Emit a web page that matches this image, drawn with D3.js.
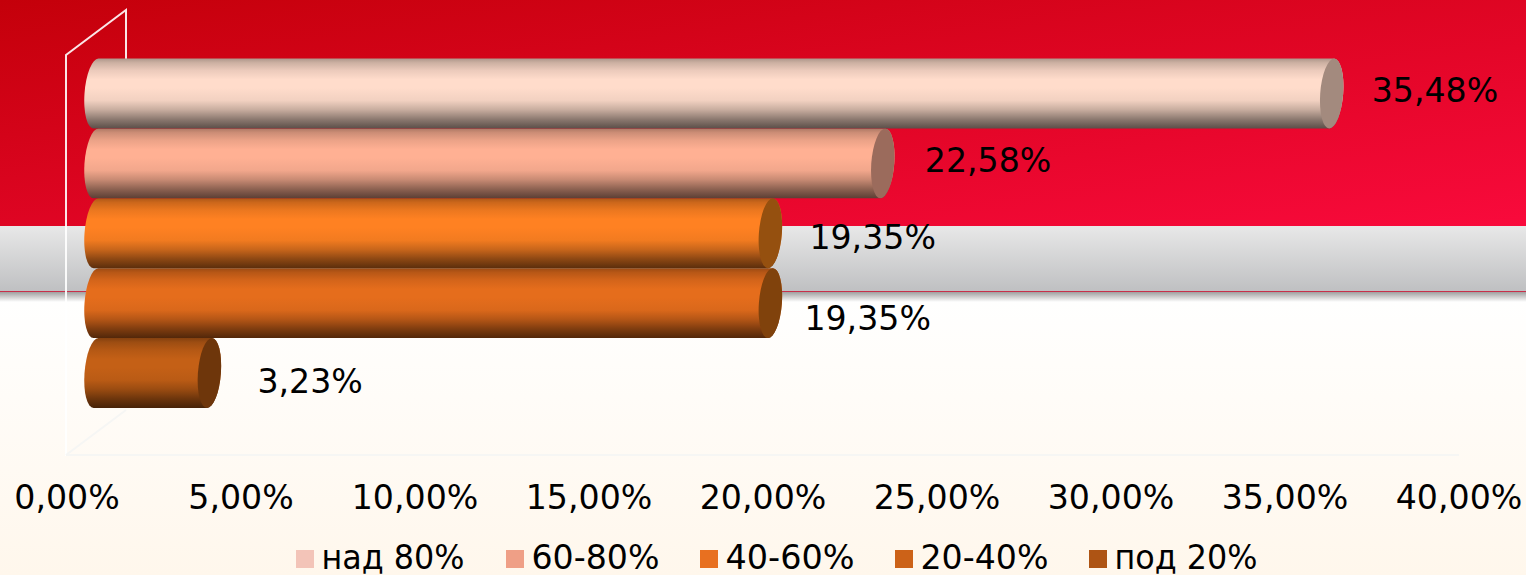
<!DOCTYPE html>
<html lang="en">

<head>
    <meta charset="UTF-8">
    <title>Bar Chart</title>
    <style>
        body {
            margin: 0;
            padding: 0;
            overflow: hidden;
            background-color: #fff;
        }

        svg {
            display: block;
        }

        text {
            font-family: "DejaVu Sans", sans-serif;
            font-size: 33.2px;
            fill: #000;
        }
    </style>
</head>

<body>
    <div id="chart"></div>

    <script src="https://d3js.org/d3.v7.min.js"></script>
    <script>
        const categories = ["над 80%", "60-80%", "40-60%", "20-40%", "под 20%"];
        const values = [35.48, 22.58, 19.35, 19.35, 3.23];
        const tickValues = [0, 5, 10, 15, 20, 25, 30, 35, 40];
        const barColors = ["#ffdccb", "#ffb093", "#ff8122", "#e56d1c", "#c46016"];
        const capColors = ["#a38a7e", "#9b6b5c", "#95500f", "#80420c", "#6e360b"];
        const legendColors = ["#f3c4b8", "#ef9f86", "#e87020", "#cc6218", "#ae5414"];

        const width = 1526;
        const height = 575;

        const svg = d3.select("#chart").append("svg")
            .attr("width", width)
            .attr("height", height);

        const defs = svg.append("defs");

        function addGradient(id, stops, attrs) {
            const g = defs.append("linearGradient").attr("id", id);
            Object.entries(attrs).forEach(([k, v]) => g.attr(k, v));
            stops.forEach(s => g.append("stop").attr("offset", s[0]).attr("stop-color", s[1]));
        }

        const vertical = { x1: 0, y1: 0, x2: 0, y2: 1 };
        addGradient("redBg", [[0, "#c4000a"], [1, "#f90a3c"]], { x1: 0, y1: 0, x2: 1, y2: 1 });
        addGradient("greyBg", [[0, "#e8e8e8"], [1, "#bfc0c2"]], vertical);
        addGradient("shadowBg", [[0, "#a0a0a0"], [1, "#ffffff"]], vertical);
        addGradient("creamBg", [[0, "#ffffff"], [1, "#fff7ec"]], vertical);

        // page background, the red, grey and cream bands
        svg.append("rect").attr("width", width).attr("height", 226).attr("fill", "url(#redBg)");
        svg.append("rect").attr("y", 226).attr("width", width).attr("height", 65).attr("fill", "url(#greyBg)");
        svg.append("rect").attr("y", 291).attr("width", width).attr("height", 284).attr("fill", "url(#creamBg)");
        svg.append("rect").attr("y", 292).attr("width", width).attr("height", 10).attr("fill", "url(#shadowBg)");
        svg.append("rect").attr("y", 291).attr("width", width).attr("height", 1).attr("fill", "#c8304a");

        const x = d3.scaleLinear().domain([0, 40]).range([67, 1459]);
        const y = d3.scaleBand().domain(categories).range([58.5, 408]);

        const depthX = 30;
        const capRx = 11.5;
        const skew = -4;

        // back wall and floor of the 3d box
        const wall = svg.append("g").attr("fill", "none");
        wall.append("path")
            .attr("d", `M${x(0) - 1},456V55L${x(0) + 59},10V60`)
            .attr("stroke", "#ffffff")
            .attr("stroke-opacity", 0.9)
            .attr("stroke-width", 2);
        wall.append("path")
            .attr("d", `M${x(0) - 1},455H${x(40)}M${x(0) - 1},455L${x(0) + 59},410`)
            .attr("stroke", "#f6f6f4")
            .attr("stroke-width", 2);

        // shading down the cylinder, built from each bar colour
        categories.forEach((c, i) => {
            const base = d3.color(barColors[i]);
            const shade = k => d3.rgb(base.r * k, base.g * k, base.b * k).formatHex();
            addGradient("bar" + i, [
                [0, shade(0.68)],
                [0.06, shade(0.8)],
                [0.17, shade(0.92)],
                [0.3, shade(1)],
                [0.42, shade(1)],
                [0.6, shade(0.95)],
                [0.73, shade(0.79)],
                [0.87, shade(0.55)],
                [1, shade(0.36)]
            ], vertical);
        });

        const rows = categories.map((c, i) => ({ c, v: values[i], i }));

        // lower bars first so each one sits under the bar above it
        const bars = svg.append("g")
            .selectAll("g")
            .data(rows.slice().reverse())
            .enter().append("g")
            .attr("transform", d => `translate(0,${y(d.c) + y.bandwidth() / 2}) skewX(${skew})`);

        bars.append("path")
            .attr("d", d => {
                const ry = y.bandwidth() / 2;
                const x0 = x(0) + depthX - 1;
                const x1 = x(d.v) + depthX;
                return `M${x0},${-ry}A${capRx},${ry} 0 0 0 ${x0},${ry}L${x1},${ry}A${capRx},${ry} 0 0 0 ${x1},${-ry}Z`;
            })
            .attr("fill", d => `url(#bar${d.i})`);

        bars.append("ellipse")
            .attr("cx", d => x(d.v) + depthX)
            .attr("cy", 0)
            .attr("rx", capRx)
            .attr("ry", y.bandwidth() / 2)
            .attr("fill", d => capColors[d.i]);

        // labels were placed by hand in the original so they need a nudge each
        const nudgeX = [40, 42, 39, 34, 48];
        const nudgeY = [8.7, 8.7, 15.7, 26.7, 19.7];
        svg.append("g")
            .selectAll("text")
            .data(rows)
            .enter().append("text")
            .attr("x", d => x(d.v) + depthX + nudgeX[d.i])
            .attr("y", d => y(d.c) + y.bandwidth() / 2 + nudgeY[d.i])
            .text(d => d3.format(".2f")(d.v).replace(".", ",") + "%");

        const axis = d3.axisBottom(x)
            .tickValues(tickValues)
            .tickSize(0)
            .tickPadding(0)
            .tickFormat(d => d3.format(".2f")(d).replace(".", ",") + "%");

        const axisG = svg.append("g")
            .attr("transform", "translate(0,480)")
            .call(axis);
        axisG.select(".domain").remove();
        axisG.selectAll("text")
            .attr("dy", 0)
            .attr("y", 28.5)
            .attr("x", -0.5)
            .style("font-family", "\"DejaVu Sans\", sans-serif")
            .style("font-size", "33.2px");

        // legend entries are squeezed a little, the cyrillic runs narrower in the original
        const legendTextWidths = [143, 128, 129, 128, 143];
        let legendX = 296;
        categories.forEach((c, i) => {
            svg.append("rect")
                .attr("x", legendX)
                .attr("y", 550)
                .attr("width", 18)
                .attr("height", 18)
                .attr("fill", legendColors[i]);
            svg.append("text")
                .attr("x", legendX + 25.5)
                .attr("y", 569)
                .attr("textLength", legendTextWidths[i])
                .attr("lengthAdjust", "spacingAndGlyphs")
                .text(c);
            legendX += 27 + legendTextWidths[i] + (i === 0 ? 40 : 39);
        });
    </script>
</body>

</html>
